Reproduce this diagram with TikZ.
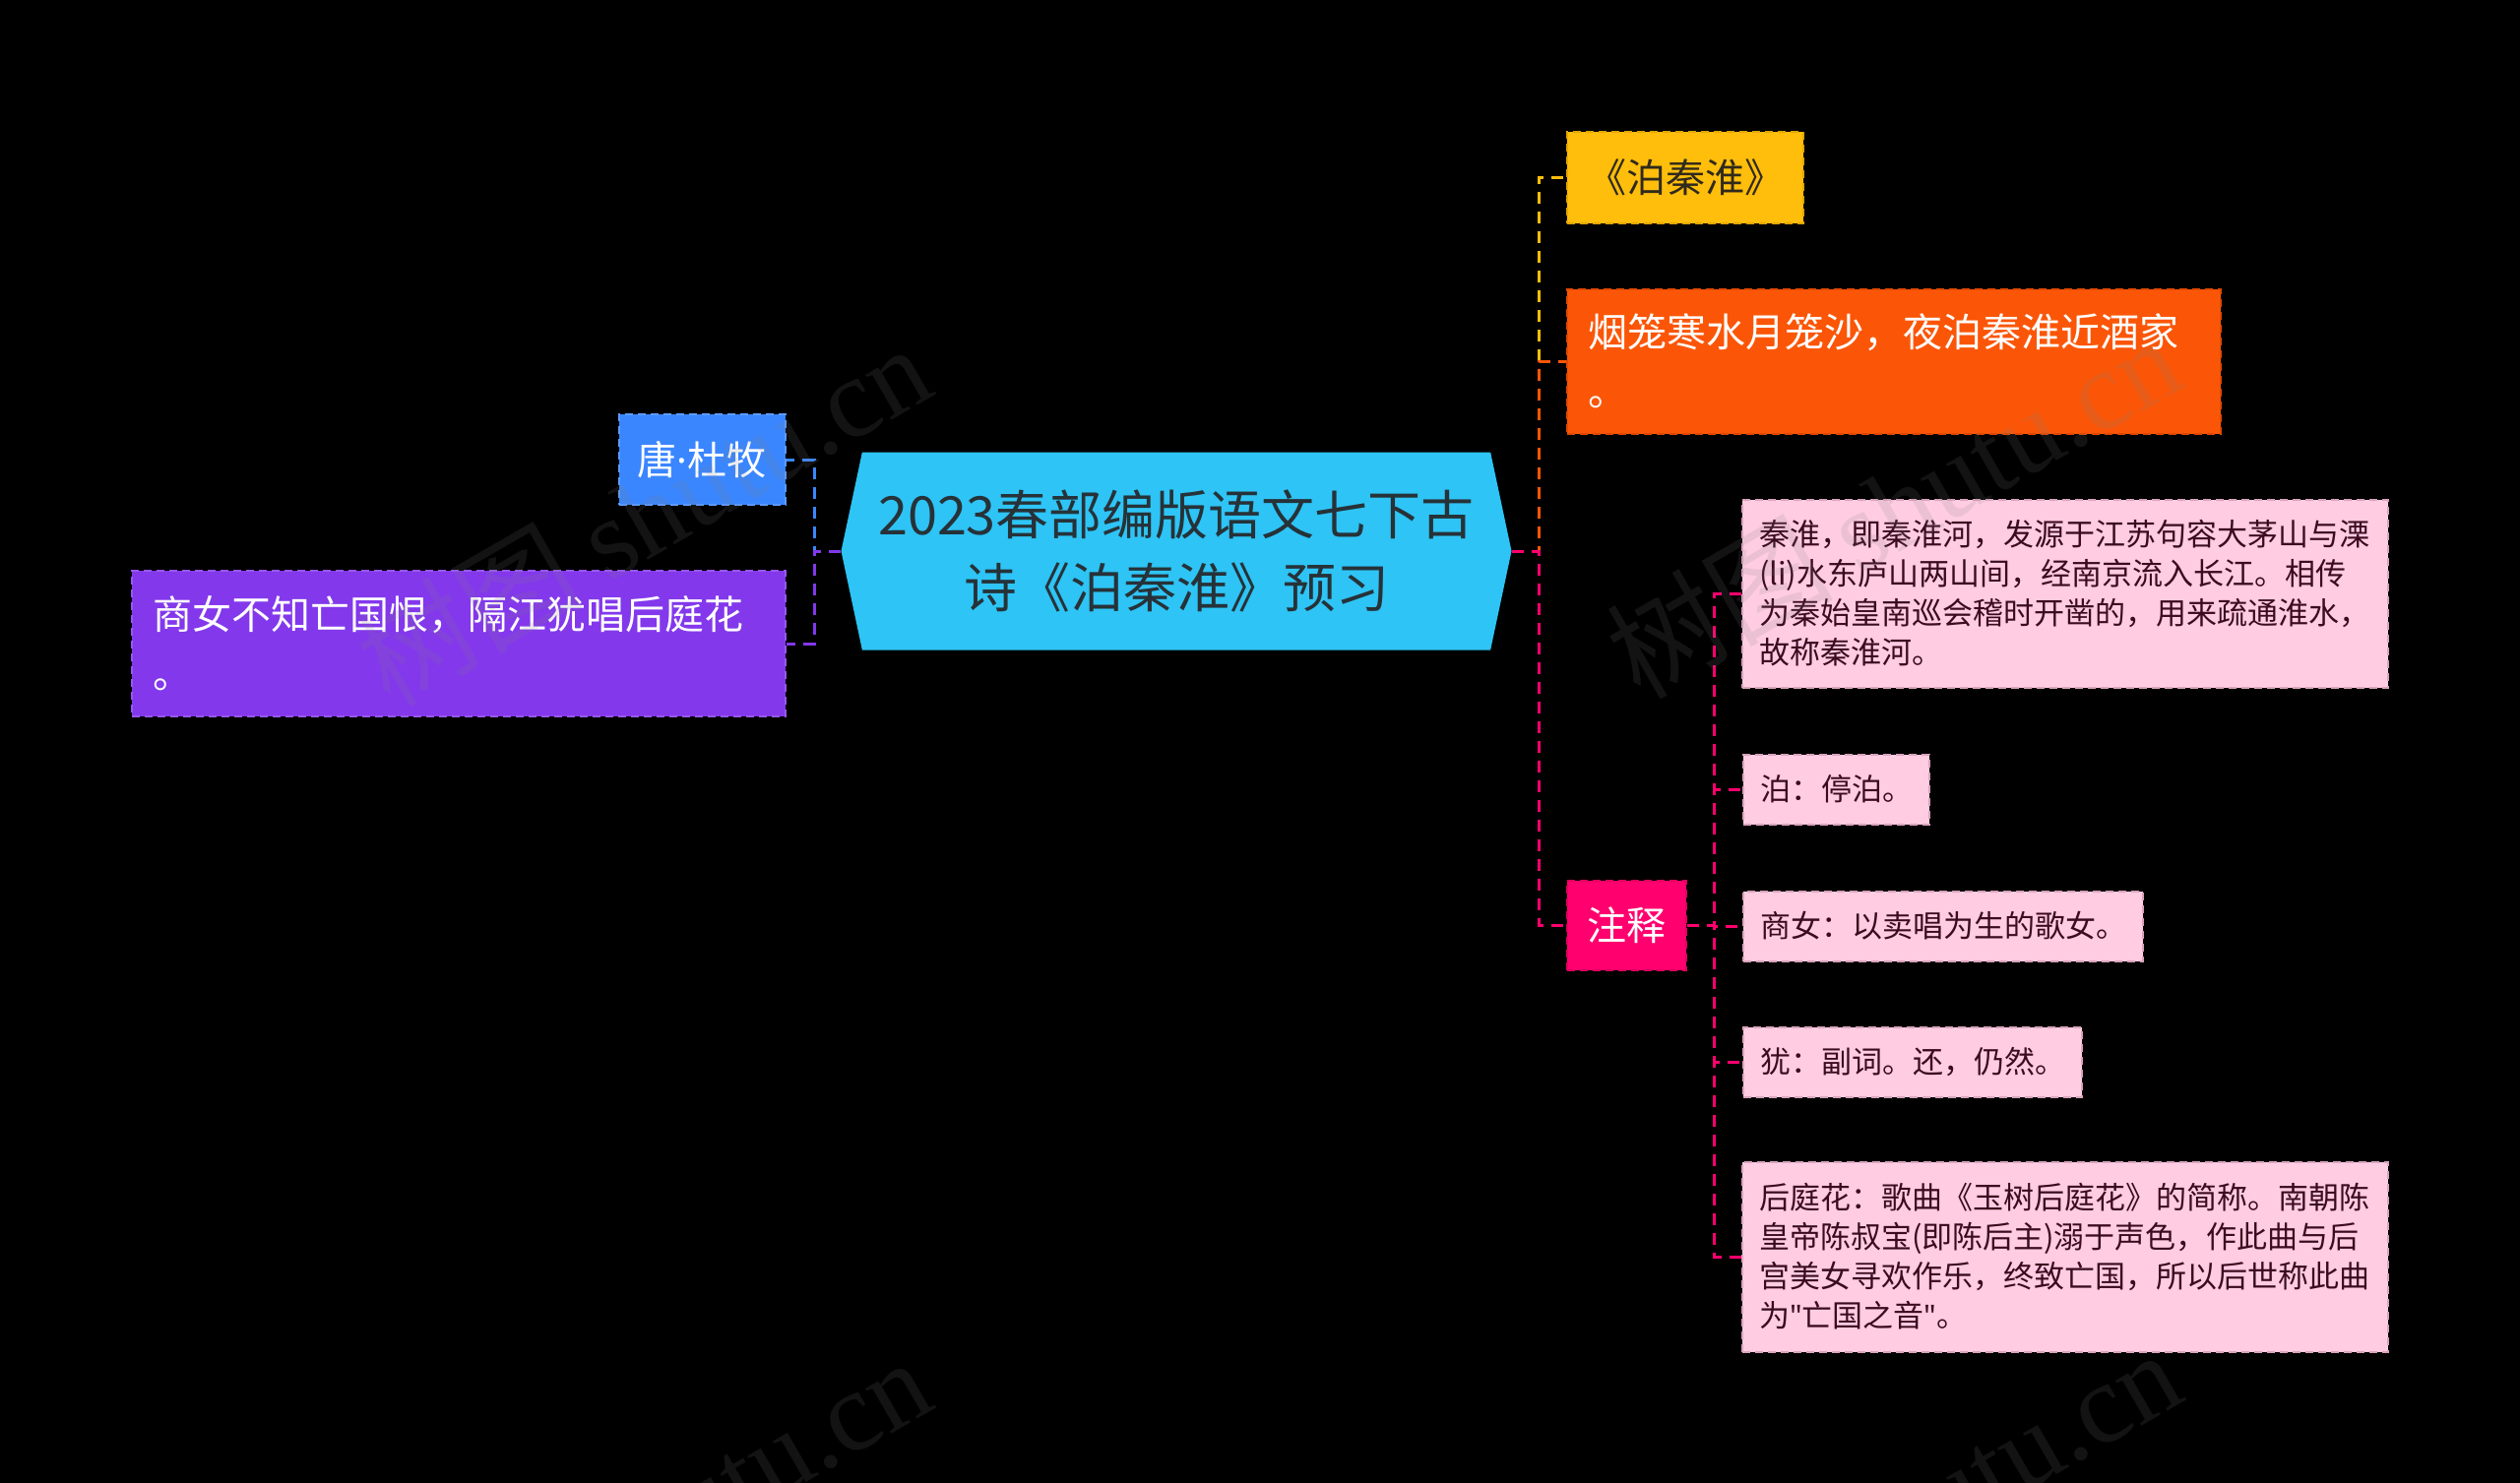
\documentclass[tikz,border=0pt]{standalone}
\usepackage{fontspec}
\setmainfont{Noto Sans CJK SC}
\newfontfamily\cjkfont{Noto Sans CJK SC}
\newfontfamily\latfont{Noto Sans}
\newfontfamily\wmfont{Liberation Serif}
\usetikzlibrary{shapes.symbols}
\definecolor{rootc}{HTML}{2EC4F5}
\definecolor{roottxt}{HTML}{263238}
\definecolor{bluec}{HTML}{3A86FF}
\definecolor{blueb}{HTML}{5C9BFF}
\definecolor{purpc}{HTML}{8338EC}
\definecolor{purpb}{HTML}{9857F0}
\definecolor{yelc}{HTML}{FFBE0B}
\definecolor{yelb}{HTML}{E3A600}
\definecolor{orac}{HTML}{FB5607}
\definecolor{orab}{HTML}{E04800}
\definecolor{pinkc}{HTML}{FF006E}
\definecolor{pinkb}{HTML}{E0005F}
\definecolor{notec}{HTML}{FFCCE2}
\definecolor{noteb}{HTML}{D9A3BC}
\definecolor{notetxt}{HTML}{3B0B1F}
\definecolor{yeltxt}{HTML}{2F2A1C}
\definecolor{wmc}{HTML}{808080}
\tikzset{
  box/.style={rectangle, inner sep=0pt, line width=2pt, dash pattern=on 8pt off 5pt},
  bigtxt/.style={font=\fontsize{40}{60}\selectfont},
  notetext/.style={font=\fontsize{31}{40}\selectfont},
  notebox/.style={box, notetext, fill=notec, draw=noteb, text=notetxt, inner xsep=17pt, minimum height=71pt},
  conn/.style={line width=3pt, dash pattern=on 12pt off 8pt},
  wm/.style={text=wmc, text opacity=0.15, rotate=30, inner sep=0pt}
}
\begin{document}
\begin{tikzpicture}[x=1pt, y=-1pt]
\fill[black] (0,0) rectangle (2560,1507);
\useasboundingbox (0,0) rectangle (2560,1507);

% root
\node[signal, signal to=east and west, signal pointer angle=156, fill=rootc,
      minimum width=681pt, minimum height=201pt, inner sep=0pt, text=roottxt,
      align=center, font=\fontsize{54}{74}\selectfont] (root) at (1195,560)
      {2023春部编版语文七下古\\诗《泊秦淮》预习};

% left children
\node[box, bigtxt, fill=bluec, draw=blueb, text=white, minimum width=169pt, minimum height=92pt]
  (tang) at (713,467) {唐{\latfont\symbol{"00B7}}杜牧};
\node[box, bigtxt, fill=purpc, draw=purpb, text=white, text width=622pt, inner xsep=21pt,
      minimum height=148pt, align=left] (shangnv) at (466,654)
  {商女不知亡国恨，隔江犹唱后庭花\\。};

% right children
\node[box, bigtxt, fill=yelc, draw=yelb, text=yeltxt, minimum width=240pt, minimum height=93pt]
  (bo) at (1712,180) {《泊秦淮》};
\node[box, bigtxt, fill=orac, draw=orab, text=white, text width=622pt, inner xsep=21pt,
      minimum height=147pt, align=left] (yan) at (1924,367)
  {烟笼寒水月笼沙，夜泊秦淮近酒家\\。};
\node[box, bigtxt, fill=pinkc, draw=pinkb, text=white, minimum width=121pt, minimum height=91pt]
  (zhushi) at (1652,940) {注释};

% notes
\node[notebox, text width=622pt, align=left, minimum height=191pt] (n1) at (2098,603)
  {秦淮，即秦淮河，发源于江苏句容大茅山与溧\\(li)水东庐山两山间，经南京流入长江。相传\\为秦始皇南巡会稽时开凿的，用来疏通淮水，\\故称秦淮河。};
\node[notebox, anchor=west] (n2) at (1770,802) {泊：停泊。};
\node[notebox, anchor=west] (n3) at (1770,941) {商女：以卖唱为生的歌女。};
\node[notebox, anchor=west] (n4) at (1770,1079) {犹：副词。还，仍然。};
\node[notebox, text width=622pt, align=left, minimum height=193pt] (n5) at (2098,1277)
  {后庭花：歌曲《玉树后庭花》的简称。南朝陈\\皇帝陈叔宝(即陈后主)溺于声色，作此曲与后\\宫美女寻欢作乐，终致亡国，所以后世称此曲\\为{\latfont\symbol{34}}亡国之音{\latfont\symbol{34}}。};

% junctions
\coordinate (lj) at (827,560);
\coordinate (rj) at (1563,560);
\coordinate (nj) at (1741,940);

% connectors
\draw[conn, bluec] (root.west) -- (lj) |- (tang.east);
\draw[conn, purpc] (root.west) -- (lj) |- (shangnv.east);
\draw[conn, yelc] (root.east) -- (rj) |- (bo.west);
\draw[conn, orac] (root.east) -- (rj) |- (yan.west);
\draw[conn, pinkc] (root.east) -- (rj) |- (zhushi.west);
\foreach \n in {n1,n2,n3,n4,n5}{
  \draw[conn, pinkc] (zhushi.east) -- (nj) |- (\n.west);
}

% watermarks
\node[wm] (wm1) at (653,522) {\fontsize{115}{115}\selectfont\cjkfont 树图 \wmfont shutu.cn};
\node[wm] (wm2) at (1923,514) {\fontsize{115}{115}\selectfont\cjkfont 树图 \wmfont shutu.cn};
\node[wm] (wm3) at (653,1552) {\fontsize{115}{115}\selectfont\cjkfont 树图 \wmfont shutu.cn};
\node[wm] (wm4) at (1923,1544) {\fontsize{115}{115}\selectfont\cjkfont 树图 \wmfont shutu.cn};
\end{tikzpicture}
\end{document}
